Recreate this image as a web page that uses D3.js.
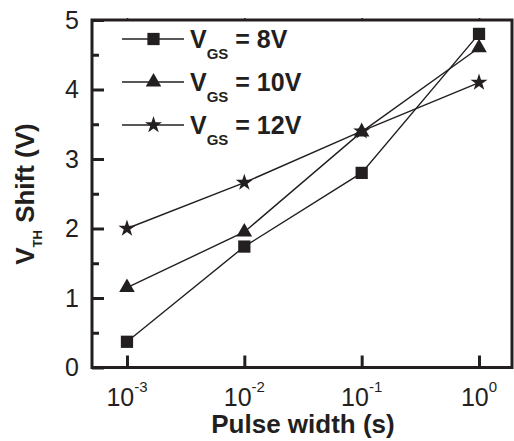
<!DOCTYPE html>
<html>
<head>
<meta charset="utf-8">
<script src="https://cdn.jsdelivr.net/npm/d3@7"></script>
<style>
  body { margin: 0; background: #fff; }
  text { font-family: "Liberation Sans", Arial, Helvetica, sans-serif; fill: #231f20; }
</style>
</head>
<body>
<div id="chart"></div>
<script>
// Data
const pulseWidths = [1e-3, 1e-2, 1e-1, 1];
const shift8V = [0.37, 1.74, 2.80, 4.80];
const shift10V = [1.15, 1.95, 3.39, 4.60];
const shift12V = [2.00, 2.66, 3.40, 4.10];
const seriesLabels = ["8V", "10V", "12V"];
const yTicks = [0, 1, 2, 3, 4, 5];
const yMinorTicks = [0.5, 1.5, 2.5, 3.5, 4.5];
const xExponents = [-3, -2, -1, 0];

const width = 514, height = 441;
const margin = { top: 20, right: 2, bottom: 73.5, left: 92 };
const innerW = width - margin.left - margin.right;
const innerH = height - margin.top - margin.bottom;
const ink = "#231f20";

const svg = d3.select("#chart").append("svg")
    .attr("width", width)
    .attr("height", height);

const g = svg.append("g")
    .attr("transform", `translate(${margin.left},${margin.top})`);

const x = d3.scaleLog()
    .domain([Math.pow(10, -3.298), Math.pow(10, 0.281)])
    .range([0, innerW]);

const y = d3.scaleLinear()
    .domain([0, 5])
    .range([innerH, 0]);

// Frame
g.append("rect")
    .attr("width", innerW)
    .attr("height", innerH)
    .attr("fill", "none")
    .attr("stroke", ink)
    .attr("stroke-width", 3);

// Y axis, major ticks inward
const yAxis = g.append("g")
    .call(d3.axisLeft(y).tickValues(yTicks).tickSize(-12).tickPadding(13).tickFormat(d3.format("d")));
yAxis.select(".domain").remove();
yAxis.selectAll("line").attr("stroke", ink).attr("stroke-width", 3);
yAxis.selectAll("text").attr("font-size", 25).attr("fill", ink);

// Y minor ticks
const yMinor = g.append("g")
    .call(d3.axisLeft(y).tickValues(yMinorTicks).tickSize(-7).tickFormat(""));
yMinor.select(".domain").remove();
yMinor.selectAll("line").attr("stroke", ink).attr("stroke-width", 3);

// X axis, ticks inward
const xAxis = g.append("g")
    .attr("transform", `translate(0,${innerH})`)
    .call(d3.axisBottom(x).tickValues(pulseWidths).tickSize(-12).tickFormat(""));
xAxis.select(".domain").remove();
xAxis.selectAll("line").attr("stroke", ink).attr("stroke-width", 3);

// small marks on top edge
const xTop = g.append("g")
    .call(d3.axisTop(x).tickValues(pulseWidths).tickSize(2).tickFormat(""));
xTop.select(".domain").remove();
xTop.selectAll("line").attr("stroke", ink).attr("stroke-width", 1.5);

// X tick labels as 10^n
xExponents.forEach((e, i) => {
    const t = g.append("text")
        .attr("x", x(pulseWidths[i]))
        .attr("y", innerH + 38.5)
        .attr("text-anchor", "middle")
        .attr("font-size", 25);
    t.append("tspan").text("10");
    t.append("tspan").attr("font-size", 15).attr("dy", -14).text(e);
});

// Axis titles
svg.append("text")
    .attr("x", 303)
    .attr("y", 433)
    .attr("text-anchor", "middle")
    .attr("font-size", 26)
    .attr("font-weight", "bold")
    .text("Pulse width (s)");

const yTitle = svg.append("text")
    .attr("transform", "translate(34,194) rotate(-90)")
    .attr("text-anchor", "middle")
    .attr("font-size", 26)
    .attr("font-weight", "bold");
yTitle.append("tspan").text("V");
yTitle.append("tspan").attr("font-size", 13).attr("dy", 8).text("TH");
yTitle.append("tspan").attr("dy", -8).text(" Shift (V)");

// Series
const series = [
    { label: seriesLabels[0], values: shift8V, symbol: d3.symbolSquare, size: 150 },
    { label: seriesLabels[1], values: shift10V, symbol: d3.symbolTriangle, size: 105 },
    { label: seriesLabels[2], values: shift12V, symbol: d3.symbolStar, size: 90 }
];

const line = d3.line()
    .x((d, i) => x(pulseWidths[i]))
    .y(d => y(d));

series.forEach(s => {
    g.append("path")
        .datum(s.values)
        .attr("fill", "none")
        .attr("stroke", ink)
        .attr("stroke-width", 1.4)
        .attr("d", line);
});

series.forEach(s => {
    g.selectAll(null)
        .data(s.values)
        .join("path")
        .attr("transform", (d, i) => `translate(${x(pulseWidths[i])},${y(d)})`)
        .attr("d", d3.symbol().type(s.symbol).size(s.size))
        .attr("fill", ink);
});

// Legend
const legend = svg.append("g");
series.forEach((s, i) => {
    const cy = 39 + i * 43;
    legend.append("line")
        .attr("x1", 122).attr("x2", 184)
        .attr("y1", cy).attr("y2", cy)
        .attr("stroke", ink)
        .attr("stroke-width", 1.4);
    legend.append("path")
        .attr("transform", `translate(153.5,${cy})`)
        .attr("d", d3.symbol().type(s.symbol).size(s.size))
        .attr("fill", ink);
    const t = legend.append("text")
        .attr("x", 190)
        .attr("y", cy + 8.5)
        .attr("font-size", 25)
        .attr("font-weight", "bold");
    t.append("tspan").text("V");
    t.append("tspan").attr("font-size", 15).attr("dy", 11).text("GS");
    t.append("tspan").attr("dy", -11).text(` = ${s.label}`);
});
</script>
</body>
</html>
